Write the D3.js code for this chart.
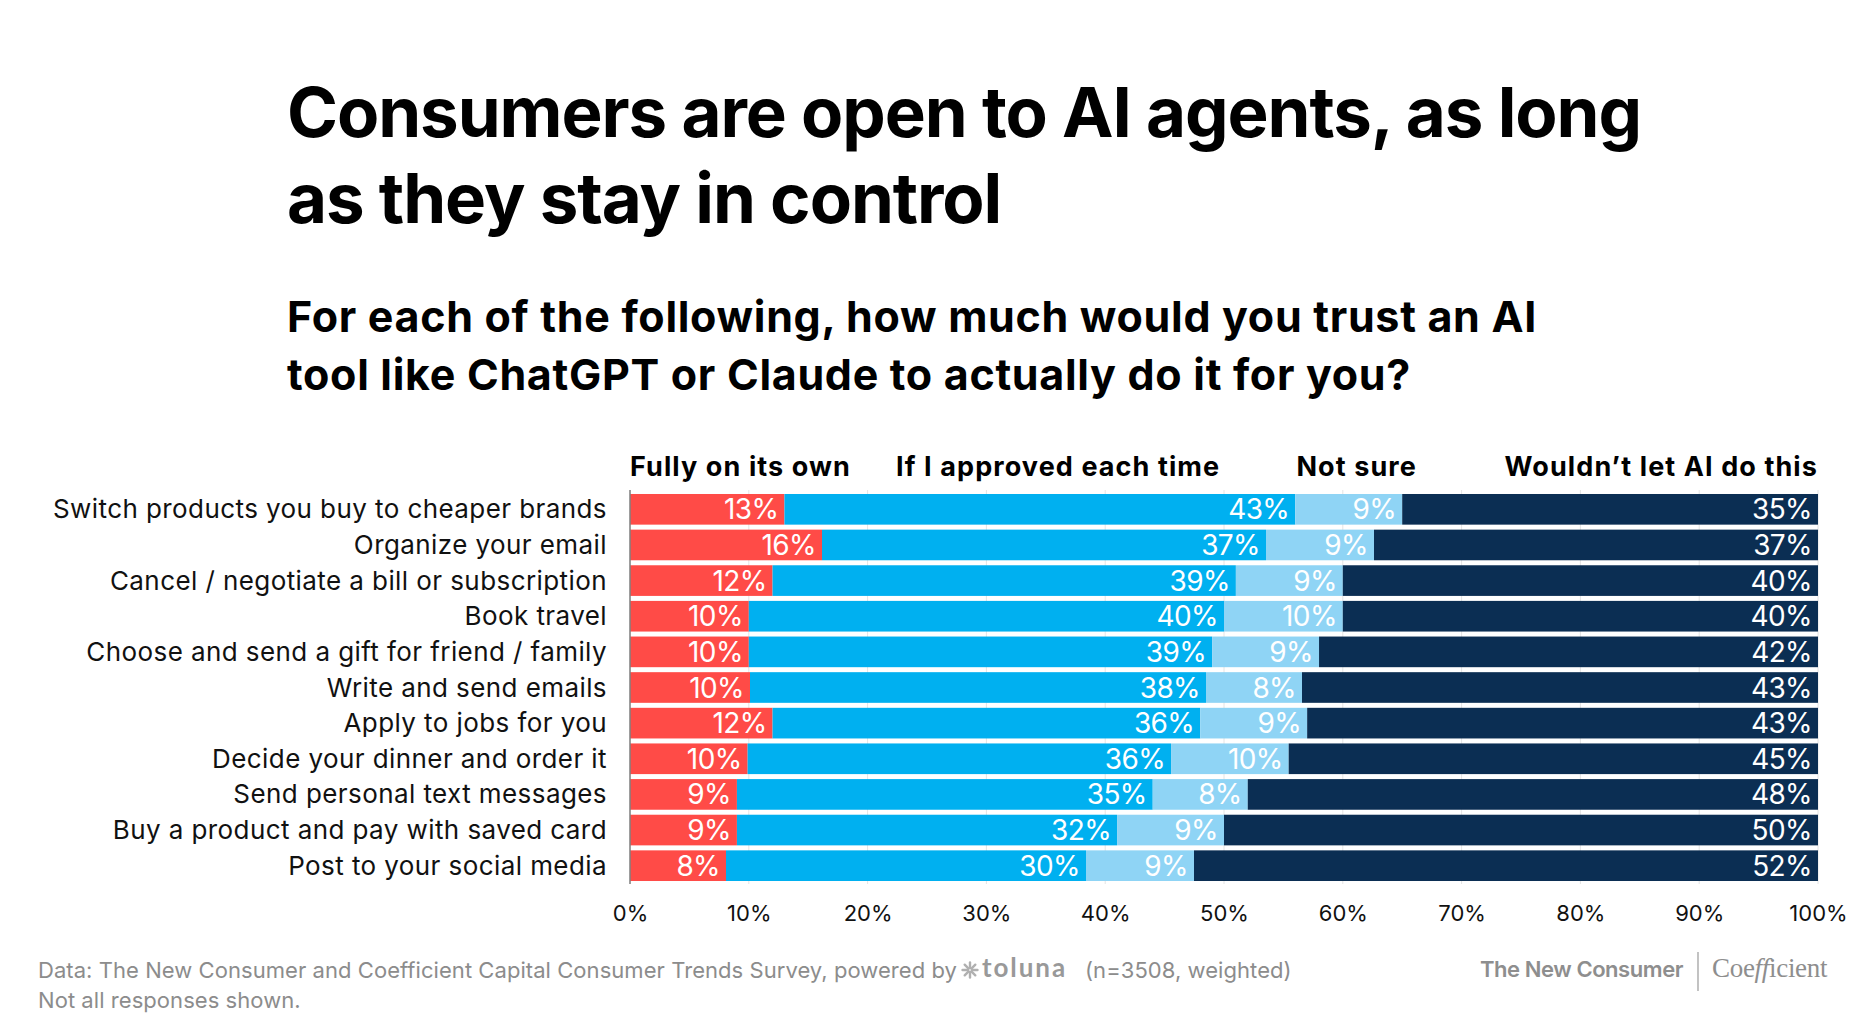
<!DOCTYPE html>
<html>
<head>
<meta charset="utf-8">
<script src="https://cdn.jsdelivr.net/npm/d3@7"></script>
<style>
  body { margin: 0; background: #fff; }
  svg { display: block; font-family: Inter, "Noto Sans", sans-serif; }
</style>
</head>
<body>
<svg id="chart" width="1854" height="1022"></svg>
<script>
// ---- data ----
const categories = [
    "Switch products you buy to cheaper brands",
    "Organize your email",
    "Cancel / negotiate a bill or subscription",
    "Book travel",
    "Choose and send a gift for friend / family",
    "Write and send emails",
    "Apply to jobs for you",
    "Decide your dinner and order it",
    "Send personal text messages",
    "Buy a product and pay with saved card",
    "Post to your social media"
];
const fullyOnOwn = [13, 16, 12, 10, 10, 10, 12, 10, 9, 9, 8];
const approvedEach = [43, 37, 39, 40, 39, 38, 36, 36, 35, 32, 30];
const notSure = [9, 9, 9, 10, 9, 8, 9, 10, 8, 9, 9];
const wouldntLet = [35, 37, 40, 40, 42, 43, 43, 45, 48, 50, 52];
const seriesNames = ["Fully on its own", "If I approved each time", "Not sure", "Wouldn\u2019t let AI do this"];
const xTicks = [0, 10, 20, 30, 40, 50, 60, 70, 80, 90, 100];

const keys = ["own", "approved", "unsure", "wouldnt"];
const colors = ["#ff4b47", "#00b0f0", "#8fd4f5", "#0b2e53"];

const rows = categories.map((c, i) => ({
    cat: c, own: fullyOnOwn[i], approved: approvedEach[i], unsure: notSure[i], wouldnt: wouldntLet[i]
}));
const total = d => keys.reduce((s, k) => s + d[k], 0);

const svg = d3.select("#chart");

// letter-spacing so the first line hits a given width, same tracking for the rest
function track(nodes, width) {
    const first = nodes.nodes()[0];
    const ls = (width - first.getComputedTextLength()) / first.getNumberOfChars();
    nodes.attr("letter-spacing", ls);
}

// ---- titles ----
const title = svg.append("g")
    .attr("font-weight", 700).attr("font-size", 69).attr("fill", "#000");
const titleLines = title.selectAll("text")
    .data(["Consumers are open to AI agents, as long", "as they stay in control"])
    .enter().append("text")
    .attr("x", 287)
    .attr("y", (d, i) => 137 + i * 86)
    .text(d => d);
track(titleLines, 1354);

const sub = svg.append("g")
    .attr("font-weight", 700).attr("font-size", 43).attr("fill", "#000");
const subLines = sub.selectAll("text")
    .data(["For each of the following, how much would you trust an AI", "tool like ChatGPT or Claude to actually do it for you?"])
    .enter().append("text")
    .attr("x", 287)
    .attr("y", (d, i) => 332 + i * 58)
    .text(d => d);
track(subLines, 1250);

// ---- chart ----
const x = d3.scaleLinear().domain([0, 100]).range([630, 1818]);
const y = d3.scaleBand().domain(categories).range([491.5, 883.5])
    .paddingInner(0.14).paddingOuter(0.07);

svg.append("g").selectAll("line")
    .data(xTicks)
    .enter().append("line")
    .attr("x1", d => x(d)).attr("x2", d => x(d))
    .attr("y1", 490).attr("y2", 884)
    .attr("stroke", "#e4e4e4").attr("stroke-width", 1);

const stacked = d3.stack()
    .keys(keys)
    .value((d, k) => d[k] / total(d) * 100)(rows);

const layers = svg.append("g")
    .selectAll("g")
    .data(stacked)
    .enter().append("g")
    .attr("fill", (d, i) => colors[i]);

layers.selectAll("rect")
    .data(d => d)
    .enter().append("rect")
    .attr("x", d => x(d[0]))
    .attr("y", d => y(d.data.cat))
    .attr("width", d => x(d[1]) - x(d[0]))
    .attr("height", y.bandwidth());

layers.each(function (layer) {
    d3.select(this).selectAll("text")
        .data(layer)
        .enter().append("text")
        .attr("x", d => x(d[1]) - 6)
        .attr("y", d => y(d.data.cat) + y.bandwidth() / 2 + 10)
        .attr("text-anchor", "end")
        .attr("fill", "#fff")
        .attr("font-size", 28)
        .attr("letter-spacing", -0.6)
        .text(d => d.data[layer.key] + "%");
});

// zero line
svg.append("line")
    .attr("x1", x(0)).attr("x2", x(0))
    .attr("y1", 490).attr("y2", 884)
    .attr("stroke", "#808080").attr("stroke-width", 1.5);

// category labels
const catLabels = svg.append("g").selectAll("text")
    .data(categories)
    .enter().append("text")
    .attr("x", 607)
    .attr("y", d => y(d) + y.bandwidth() / 2 + 9)
    .attr("text-anchor", "end")
    .attr("font-size", 26)
    .attr("fill", "#111")
    .text(d => d);
track(catLabels, 554);

// series headers
const headerX = [0, 22.4, 56.1, 100];
const headers = svg.append("g")
    .attr("font-weight", 700).attr("font-size", 27).attr("fill", "#000")
    .selectAll("text")
    .data(seriesNames)
    .enter().append("text")
    .attr("x", (d, i) => x(headerX[i]))
    .attr("y", 476)
    .attr("text-anchor", (d, i) => i === 3 ? "end" : "start")
    .text(d => d);
track(headers, 221);

// x axis
const xAxis = d3.axisBottom(x)
    .tickValues(xTicks)
    .tickFormat(d => d + "%")
    .tickSize(0)
    .tickPadding(21);
svg.append("g")
    .attr("transform", "translate(0,884)")
    .call(xAxis)
    .call(g => g.select(".domain").remove())
    .selectAll("text")
    .attr("font-size", 22)
    .attr("font-family", "Inter, sans-serif")
    .attr("fill", "#111");

// ---- footer ----
const foot = svg.append("g").attr("font-size", 22).attr("fill", "#8c8c8c");
const src = foot.append("text").attr("x", 38).attr("y", 978)
    .text("Data: The New Consumer and Coefficient Capital Consumer Trends Survey, powered by");
track(src, 919);
foot.append("text").attr("x", 38).attr("y", 1008)
    .attr("letter-spacing", src.attr("letter-spacing"))
    .text("Not all responses shown.");

let ex = 38 + 919 + 13;
const star = foot.append("g").attr("transform", `translate(${ex},970)`)
    .attr("stroke", "#b0b0b0").attr("stroke-width", 2.4).attr("stroke-linecap", "round");
d3.range(8).forEach(k => {
    const a = k * Math.PI / 4;
    star.append("line")
        .attr("x1", Math.cos(a) * 2).attr("y1", Math.sin(a) * 2)
        .attr("x2", Math.cos(a) * 7.5).attr("y2", Math.sin(a) * 7.5);
});
const tol = foot.append("text").attr("x", ex + 12).attr("y", 977)
    .attr("font-family", "Lato, sans-serif")
    .attr("font-weight", 700).attr("font-size", 26).attr("fill", "#999")
    .text("toluna");
track(tol, 85);
foot.append("text").attr("x", 1085).attr("y", 978)
    .attr("letter-spacing", src.attr("letter-spacing"))
    .text("(n=3508, weighted)");

// logos
const logo = svg.append("g").attr("fill", "#8e8e8e");
const tnc = logo.append("text").attr("x", 1480).attr("y", 977)
    .attr("font-size", 22).attr("font-weight", 600)
    .text("The New Consumer");
track(tnc, 203);
logo.append("line").attr("x1", 1698).attr("x2", 1698).attr("y1", 952).attr("y2", 991)
    .attr("stroke", "#9a9a9a").attr("stroke-width", 1.2);
const coef = logo.append("text").attr("x", 1712).attr("y", 977)
    .attr("font-family", "'Liberation Serif', 'DejaVu Serif', serif")
    .attr("font-size", 27).attr("letter-spacing", -0.3);
coef.append("tspan").text("Coe");
coef.append("tspan").attr("font-style", "italic").text("ff");
coef.append("tspan").text("icient");
</script>
</body>
</html>
